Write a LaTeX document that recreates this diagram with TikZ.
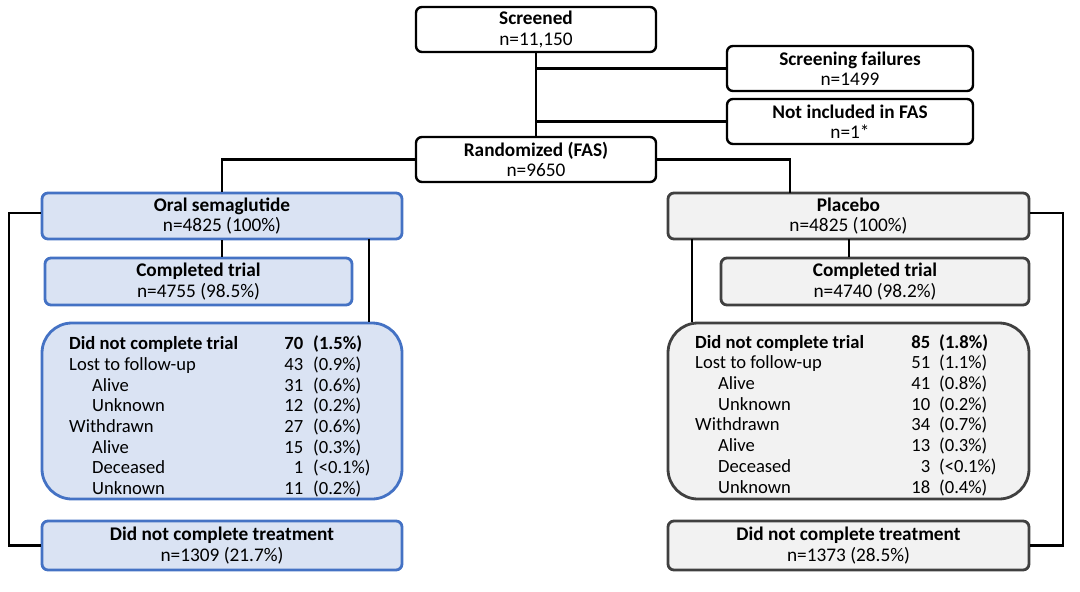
\documentclass[tikz,border=0pt]{standalone}
\usepackage{fontspec}
\setmainfont{Carlito}
\usepackage{array}
\usetikzlibrary{calc}
\definecolor{bfill}{HTML}{DAE3F3}
\definecolor{bline}{HTML}{4472C4}
\definecolor{gfill}{HTML}{F2F2F2}
\definecolor{gline}{HTML}{404040}
\tikzset{
  box/.style={draw=black, line width=2.4pt, rounded corners=6pt, fill=white, align=center, inner sep=0pt,
    font=\fontsize{19.3}{20.5}\selectfont},
  bluebox/.style={box, draw=bline, fill=bfill, line width=2.8pt},
  graybox/.style={box, draw=gline, fill=gfill, line width=2.8pt},
  bigr/.style={rounded corners=30pt},
  conn/.style={draw=black, line width=2.2pt},
  tbl/.style={anchor=north west, inner sep=0pt, font=\fontsize{18.6}{20.7}\selectfont}
}
\newcommand{\ind}{\hspace*{23pt}}
\begin{document}
\begin{tikzpicture}[x=1pt,y=-1pt]
\useasboundingbox (0,0) rectangle (1080,592);
% top
\node[box, minimum width=240pt, minimum height=45pt] (scr) at (536,29.5) {\textbf{Screened}\\n=11,150};
\node[box, minimum width=246pt, minimum height=45pt] (fail) at (850,68.5) {\textbf{Screening failures}\\n=1499};
\node[box, minimum width=246pt, minimum height=45pt] (nfas) at (850,121.5) {\textbf{Not included in FAS}\\n=1*};
\node[box, minimum width=240pt, minimum height=45pt] (rand) at (536,159.5) {\textbf{Randomized (FAS)}\\n=9650};
% left arm
\node[bluebox, minimum width=360pt, minimum height=46pt] (oral) at (222,216) {\textbf{Oral semaglutide}\\n=4825 (100\%)};
\node[bluebox, minimum width=307pt, minimum height=47pt] (compL) at (198.5,281.5) {\textbf{Completed trial}\\n=4755 (98.5\%)};
\node[bluebox, bigr, minimum width=360pt, minimum height=176pt] (dncL) at (222,411) {};
\node[bluebox, minimum width=360pt, minimum height=49pt] (dntL) at (222,545.5) {\textbf{Did not complete treatment}\\n=1309 (21.7\%)};
\node[tbl] (tabL) at (69,335) {\begin{tabular}{@{}p{210pt}@{}>{\raggedleft\arraybackslash}p{24pt}@{\hspace{10pt}}l@{}}
\textbf{Did not complete trial} & \textbf{70} & \textbf{(1.5\%)}\\
Lost to follow-up & 43 & (0.9\%)\\
\ind Alive & 31 & (0.6\%)\\
\ind Unknown & 12 & (0.2\%)\\
Withdrawn & 27 & (0.6\%)\\
\ind Alive & 15 & (0.3\%)\\
\ind Deceased & 1 & (<0.1\%)\\
\ind Unknown & 11 & (0.2\%)
\end{tabular}};
% right arm
\node[graybox, minimum width=361pt, minimum height=46pt] (plac) at (848.5,216) {\textbf{Placebo}\\n=4825 (100\%)};
\node[graybox, minimum width=308pt, minimum height=47pt] (compR) at (875,281.5) {\textbf{Completed trial}\\n=4740 (98.2\%)};
\node[graybox, bigr, minimum width=361pt, minimum height=176pt] (dncR) at (848.5,411) {};
\node[graybox, minimum width=361pt, minimum height=49pt] (dntR) at (848.5,545.5) {\textbf{Did not complete treatment}\\n=1373 (28.5\%)};
\node[tbl] (tabR) at (695,333.5) {\begin{tabular}{@{}p{210pt}@{}>{\raggedleft\arraybackslash}p{25pt}@{\hspace{9pt}}l@{}}
\textbf{Did not complete trial} & \textbf{85} & \textbf{(1.8\%)}\\
Lost to follow-up & 51 & (1.1\%)\\
\ind Alive & 41 & (0.8\%)\\
\ind Unknown & 10 & (0.2\%)\\
Withdrawn & 34 & (0.7\%)\\
\ind Alive & 13 & (0.3\%)\\
\ind Deceased & 3 & (<0.1\%)\\
\ind Unknown & 18 & (0.4\%)
\end{tabular}};
% connectors
\coordinate (pj) at (790,193);
\coordinate (lo) at (9,213);
\coordinate (ro) at (1063,213);
\draw[conn] (scr.south) -- (rand.north);
\draw[conn] (fail.west) -- (fail.west -| scr.south);
\draw[conn] (nfas.west) -- (nfas.west -| scr.south);
\draw[conn] (rand.west) -| (oral.north);
\draw[conn] (rand.east) -| (pj);
\draw[conn] (oral.south) -- (oral.south |- compL.north);
\draw[conn] (369,239) coordinate (lo1) -- (lo1 |- dncL.north);
\draw[conn] (oral.west |- lo) -- (lo) |- (dntL.west);
\draw[conn] (849,239) coordinate (ro0) -- (ro0 |- compR.north);
\draw[conn] (692,239) coordinate (ro1) -- (ro1 |- dncR.north);
\draw[conn] (plac.east |- ro) -- (ro) |- (dntR.east);
\end{tikzpicture}
\end{document}
